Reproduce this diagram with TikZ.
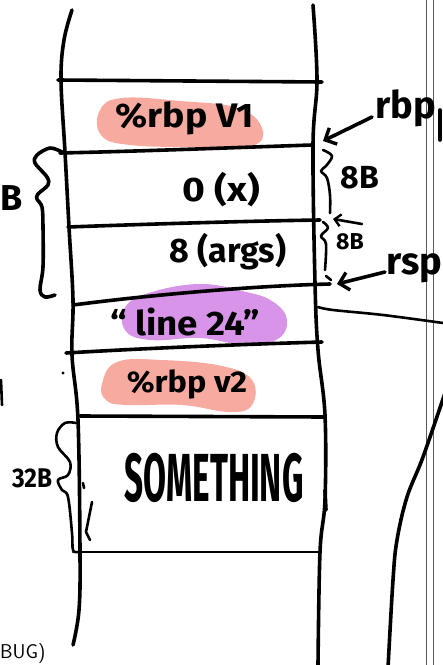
\documentclass[tikz,border=0pt]{standalone}
\usepackage{fontspec}
\setmainfont{Fira Sans}
\usetikzlibrary{arrows.meta}
\definecolor{salmon}{RGB}{246,170,160}
\definecolor{orchid}{RGB}{216,148,232}
\definecolor{rule}{RGB}{90,90,90}
\begin{document}
\begin{tikzpicture}[x=1pt,y=-1pt,
  pen/.style={line width=3.6pt,line cap=round,line join=round},
  finepen/.style={line width=2.6pt,line cap=round,line join=round},
  barb/.style={-{Straight Barb[length=9pt,width=18pt,line width=3.4pt]}},
  hand/.style={inner sep=0pt,font=\bfseries\fontsize{34}{34}\selectfont},
  small/.style={inner sep=0pt,font=\bfseries\fontsize{24}{24}\selectfont}]
\useasboundingbox (0,0) rectangle (443,665);
\clip (0,0) rectangle (443,665);

% page rulings on the right
\draw[rule,line width=0.8pt] (426,0) -- (426,665) (433,0) -- (433,665);

% highlight blobs
\fill[salmon] plot[smooth cycle,tension=0.7] coordinates
  {(100,110) (122,98) (180,101) (238,108) (262,128) (252,146) (200,147) (130,145) (101,135)};
\fill[orchid] plot[smooth cycle,tension=0.7] coordinates
  {(126,306) (152,292) (200,284) (242,291) (272,301) (287,320) (276,340) (240,344) (200,338) (150,340) (125,330)};
\fill[salmon] plot[smooth cycle,tension=0.7] coordinates
  {(102,384) (117,362) (162,360) (222,366) (252,380) (252,405) (230,412) (182,405) (126,405) (106,400)};

% stack walls
\draw[pen] plot[smooth,tension=0.6] coordinates
  {(72,10) (64,40) (61,80) (65,152) (69,227) (73,300) (72,355) (78,420) (80,552) (79,610) (73,645)};
\draw[pen] plot[smooth,tension=0.6] coordinates
  {(313,5) (317,80) (313,145) (315,283) (318,350) (325,415) (325,500) (320,552) (318,665)};

% slot dividers
\draw[pen] (58,80) -- (322,82);
\draw[pen] (60,153) .. controls (150,151) and (250,147) .. (312,145);
\draw[pen] (68,227) .. controls (150,224) and (250,221) .. (320,220);
\draw[pen] (73,305) .. controls (150,295) and (250,286) .. (330,284);
\draw[pen] (66,353) .. controls (150,348) and (250,344) .. (322,342);
\draw[pen] (80,416) -- (325,417);
\draw[finepen] (73,552) -- (320,552);

% slot contents
\node[hand,xscale=1.1] (v1)   at (185,118) {\%rbp V1};
\node[hand,xscale=1.15] (x1)  at (221,190) {0 (x)};
\node[hand] (args) at (228,252) {8 (args)};
\node[hand,xscale=1.08] (line) at (185,322) {“ line 24”};
\node[hand,xscale=1.08,font=\bfseries\fontsize{30}{30}\selectfont] (v2) at (187,384) {\%rbp v2};
\node[inner sep=0pt,font=\bfseries\fontsize{68}{68}\selectfont,xscale=0.49] (some) at (214,478) {SOMETHING};

% right-hand pointers
\node[hand,anchor=west,font=\bfseries\fontsize{38}{38}\selectfont] (rbp) at (375,108) {rbp};
\draw[pen] (440,110) -- (440,140);
\node[hand,anchor=west,font=\bfseries\fontsize{38}{38}\selectfont] (rsp) at (386,268) {rsp};
\coordinate (rbptip) at (323,141);
\coordinate (midtip) at (333,219);
\coordinate (midtail) at (362,224);
\coordinate (rsptip) at (337,284);
\draw[pen,barb] (372,117) -- (rbptip);
\draw[finepen,-{Straight Barb[length=6pt,width=12pt,line width=2.4pt]}] (midtail) -- (midtip);
\draw[pen,barb] (385,272) -- (rsptip);

% size braces on the right
\draw[finepen] plot[smooth,tension=0.6] coordinates
  {(323,150) (332,156) (326,166) (321,171) (327,178) (330,195) (330,213)};
\node[small,font=\bfseries\fontsize{32}{32}\selectfont] (b8a) at (360,178) {8B};
\draw[finepen] plot[smooth,tension=0.6] coordinates
  {(323,222) (328,228) (321,236) (326,244) (325,270)};
\node[small,font=\bfseries\fontsize{23}{23}\selectfont] (b8b) at (350,242) {8B};
\draw[finepen] (326,276) -- (331,280);

% size braces on the left
\draw[pen] plot[smooth,tension=0.55] coordinates
  {(62,152) (50,148) (37,155) (35,163) (47,177) (48,185) (38,194) (37,199) (42,207) (43,227) (43,267) (40,290) (45,297) (55,295)};
\node[hand,anchor=west,font=\bfseries\fontsize{36}{36}\selectfont] (b16) at (0,198) {B};
\draw[finepen] plot[smooth,tension=0.6] coordinates
  {(76,423) (65,423) (57,433) (58,447) (70,462) (68,475) (58,480) (62,490) (68,497) (72,533) (73,550) (78,552)};
\node[small,font=\bfseries\fontsize{27}{27}\selectfont,xscale=0.9] (b32) at (32,478) {32B};

% stray pen marks
\fill (63,373) circle (1.6pt);
\draw[finepen] (83,483) -- (84,488);
\draw[finepen] (92,502) -- (86,532) -- (90,540);
\draw[pen] (325,490) -- (326,510);
\draw[finepen] (1,380) -- (2,405);

% lines leading off to the right
\draw[finepen] plot[smooth,tension=0.6] coordinates {(318,307) (333,310) (383,315) (443,323)};
\draw[pen] plot[smooth,tension=0.6] coordinates {(445,393) (423,457) (407,497) (397,540) (393,580) (388,668)};

% caption fragment
\node[anchor=west,inner sep=0pt,font=\sffamily\fontsize{20}{20}\selectfont] (cap) at (0,654) {BUG)};
\end{tikzpicture}
\end{document}
